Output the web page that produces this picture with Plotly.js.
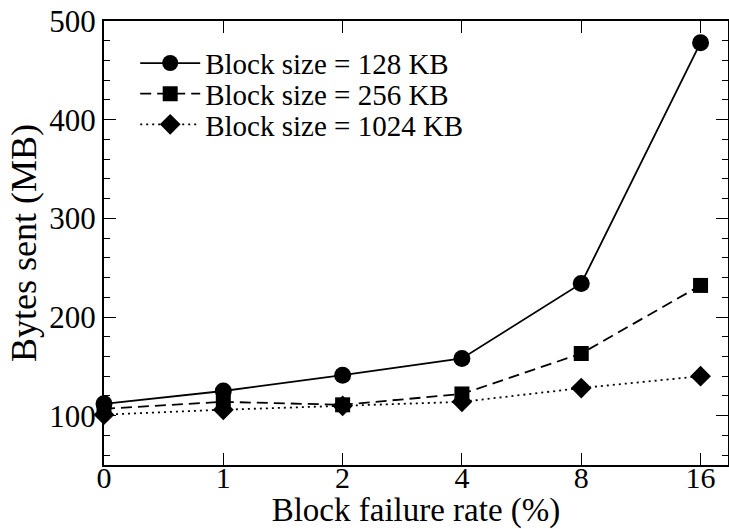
<!DOCTYPE html>
<html><head><meta charset="utf-8">
<script src="https://cdn.plot.ly/plotly-3.0.1.min.js"></script>
<style>html,body{margin:0;padding:0;background:#fff}</style>
</head><body>
<div id="chart" style="width:729px;height:529px"></div>
<script>
const categories = ["0", "1", "2", "4", "8", "16"];
const seriesNames = ["Block size = 128 KB", "Block size = 256 KB", "Block size = 1024 KB"];
const bytes128 = [112, 125, 141, 158, 234, 478];
const bytes256 = [107, 114, 111, 122, 163, 232];
const bytes1024 = [101, 106, 110, 114, 128, 140];
const yTicks = [100, 200, 300, 400, 500];

const font = 'Liberation Serif, Times New Roman, serif';
function trace(y, name, dash, symbol, size, legend) {
  return {x: categories, y: y, name: name, type: 'scatter', mode: 'lines+markers',
    legend: legend, cliponaxis: false,
    line: {color: '#000', width: 1.8, dash: dash},
    marker: {symbol: symbol, size: size, color: '#000'}};
}
const data = [
  trace(bytes128, seriesNames[0], 'solid', 'circle', 17, 'legend'),
  trace(bytes256, seriesNames[1], '11px,6px', 'square', 15, 'legend2'),
  trace(bytes1024, seriesNames[2], '2px,4px', 'diamond', 16, 'legend3')
];
function leg(yc) {
  return {x: 0.05, y: yc, xanchor: 'left', yanchor: 'middle', bgcolor: 'rgba(0,0,0,0)',
    font: {family: font, size: 29}, itemwidth: 60};
}
const layout = {
  width: 729, height: 529,
  margin: {l: 104, r: 1, t: 21, b: 64},
  paper_bgcolor: '#fff', plot_bgcolor: '#fff',
  font: {family: font, color: '#000', size: 31},
  showlegend: true,
  legend: leg(0.905), legend2: leg(0.836), legend3: leg(0.767),
  xaxis: {type: 'category', range: [0, 5.23], showgrid: false, zeroline: false,
    showline: true, linecolor: '#000', linewidth: 2, mirror: 'ticks',
    ticks: 'inside', ticklen: 12, tickcolor: '#000', tickwidth: 1,
    ticklabelstandoff: -15,
    tickfont: {family: font, size: 30},
    title: {text: 'Block failure rate (%)', font: {family: font, size: 33}, standoff: 0}},
  yaxis: {range: [50, 500], tickvals: yTicks, showgrid: false, zeroline: false,
    showline: true, linecolor: '#000', linewidth: 2, mirror: 'ticks',
    ticks: 'inside', ticklen: 12, tickcolor: '#000', tickwidth: 1,
    minor: {dtick: 20, ticks: 'inside', ticklen: 6, tickcolor: '#000', tickwidth: 1, showgrid: false},
    tickfont: {family: font, size: 31},
    title: {text: 'Bytes sent (MB)', font: {family: font, size: 36}, standoff: 2}}
};
Plotly.newPlot('chart', data, layout, {displayModeBar: false, staticPlot: true});
</script>
</body></html>
